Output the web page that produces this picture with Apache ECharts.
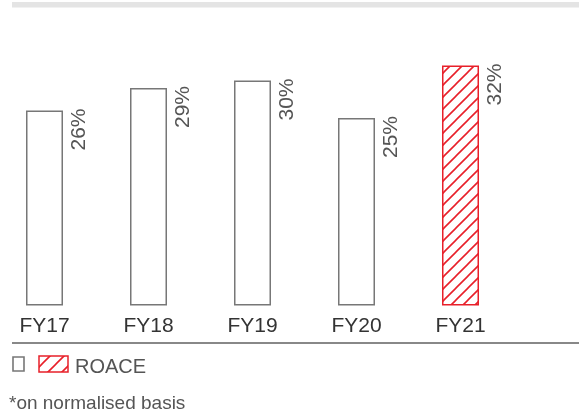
<!DOCTYPE html>
<html><head><meta charset="utf-8">
<script src="https://cdn.jsdelivr.net/npm/echarts@6/dist/echarts.min.js"></script>
<style>html,body{margin:0;padding:0;background:#fff}#c{width:579px;height:416px}</style>
</head><body><div id="c"></div>
<script>
const categories = ['FY17', 'FY18', 'FY19', 'FY20', 'FY21'];
const roace = [26, 29, 30, 25, 32];
const valueLabels = ['26%', '29%', '30%', '25%', '32%'];
const legendLabel = 'ROACE';
const footnote = '*on normalised basis';

function hatch(color, size, lw) {
  const c = document.createElement('canvas');
  c.width = size; c.height = size;
  const g = c.getContext('2d');
  g.strokeStyle = color; g.lineWidth = lw;
  g.beginPath();
  g.moveTo(0, size); g.lineTo(size, 0);
  g.moveTo(-size / 2, size / 2); g.lineTo(size / 2, -size / 2);
  g.moveTo(size / 2, size * 1.5); g.lineTo(size * 1.5, size / 2);
  g.stroke();
  return c;
}
const RED = '#e8202a';
const pat = { image: hatch(RED, 12, 1.6), repeat: 'repeat' };
const patLegend = { image: hatch(RED, 14, 1.6), repeat: 'repeat' };
const FONT = 'Liberation Sans, Arial, sans-serif';

const chart = echarts.init(document.getElementById('c'), null, { renderer: 'canvas' });
const last = categories.length - 1;
chart.setOption({
  animation: false,
  grid: { left: -7.5, width: 520, top: 5.5, height: 300, outerBoundsMode: 'none', containLabel: false },
  xAxis: {
    type: 'category', data: categories,
    axisLine: { show: false }, axisTick: { show: false },
    axisLabel: { color: '#333', fontSize: 21, fontFamily: FONT, margin: 10 }
  },
  yAxis: { type: 'value', min: 0, max: 40, show: false, splitLine: { show: false } },
  series: [{
    type: 'bar', barWidth: 37,
    data: roace.map((v, i) => ({
      value: v,
      itemStyle: i === last
        ? { color: pat, borderColor: RED, borderWidth: 1.5 }
        : { color: '#fff', borderColor: '#777', borderWidth: 1.5 }
    })),
    label: {
      show: true, position: [53, -2], rotate: 90, align: 'right', verticalAlign: 'middle',
      fontSize: 21, color: '#555', fontFamily: FONT,
      formatter: p => valueLabels[p.dataIndex]
    }
  }],
  graphic: [
    { type: 'rect', shape: { x: 12, y: 2, width: 567, height: 5.5 }, style: { fill: '#e4e4e4' } },
    { type: 'line', shape: { x1: 12, y1: 343, x2: 579, y2: 343 }, style: { stroke: '#888', lineWidth: 1.8 } },
    { type: 'rect', shape: { x: 13, y: 357, width: 11, height: 14 }, style: { fill: '#fff', stroke: '#777', lineWidth: 1.6 } },
    { type: 'rect', shape: { x: 39, y: 356, width: 29, height: 16 }, style: { fill: patLegend, stroke: RED, lineWidth: 1.5 } },
    { type: 'text', left: 75, top: 357, style: { text: legendLabel, fontSize: 20, fill: '#555', fontFamily: FONT } },
    { type: 'text', left: 9, top: 394, style: { text: footnote, fontSize: 19, fill: '#555', fontFamily: FONT } }
  ]
});
</script></body></html>
